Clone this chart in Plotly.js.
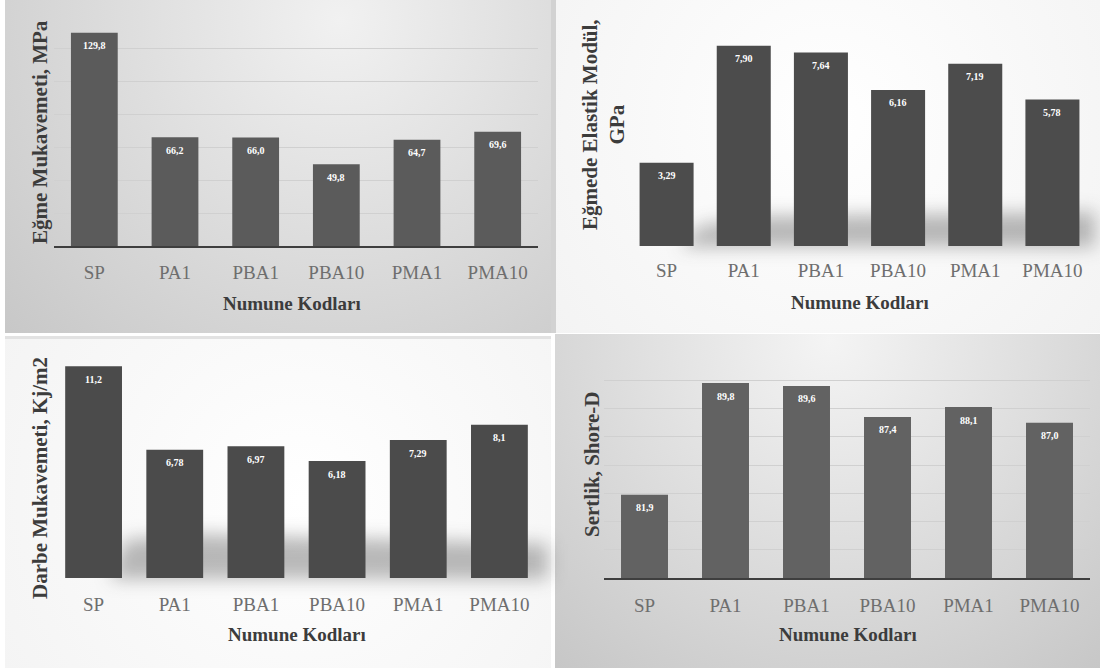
<!DOCTYPE html>
<html>
<head>
<meta charset="utf-8">
<script src="https://cdn.plot.ly/plotly-3.0.1.min.js"></script>
<style>html,body{margin:0;padding:0;background:#fff;}#chart{width:1100px;height:668px;}</style>
</head>
<body>
<div id="chart"></div>
<script>
// ---- data ----
const categories = ["SP", "PA1", "PBA1", "PBA10", "PMA1", "PMA10"];
const flexuralStrength = [129.8, 66.2, 66.0, 49.8, 64.7, 69.6];      // MPa
const flexuralModulus = [3.29, 7.90, 7.64, 6.16, 7.19, 5.78];        // GPa
const impactStrength = [11.2, 6.78, 6.97, 6.18, 7.29, 8.1];          // kJ/m2
const hardness = [81.9, 89.8, 89.6, 87.4, 88.1, 87.0];               // Shore-D
const impactDecimals = [1, 2, 2, 2, 2, 1];

const xTitle = "Numune Kodları";
const yTitle1 = "Eğme Mukavemeti, MPa";
const yTitle2 = "Eğmede Elastik Modül,<br>GPa";
const yTitle3 = "Darbe Mukavemeti, Kj/m2";
const yTitle4 = "Sertlik, Shore-D";

// ---- background (panel shading & soft shadows) ----
function makeBackground() {
  const c = document.createElement('canvas');
  c.width = 1100; c.height = 668;
  const g = c.getContext('2d');
  g.fillStyle = '#ffffff'; g.fillRect(0, 0, 1100, 668);
  function radial(x0, y0, w, h, cx, cy, r, inner, outer) {
    const gr = g.createRadialGradient(cx, cy, 0, cx, cy, r);
    gr.addColorStop(0, inner); gr.addColorStop(1, outer);
    g.fillStyle = gr; g.fillRect(x0, y0, w, h);
  }
  radial(5, 0, 546, 333, 340, 20, 520, '#f1f1f1', '#c2c2c2');
  radial(551, 0, 549, 333, 830, 120, 560, '#ffffff', '#ececec');
  g.fillStyle = '#d2d2d2'; g.fillRect(551, 0, 5, 333);
  radial(5, 336, 546, 332, 300, 500, 560, '#ffffff', '#ededed');
  g.fillStyle = '#e2e2e2'; g.fillRect(5, 336, 546, 3);
  radial(555, 334, 545, 334, 830, 340, 520, '#f4f4f4', '#bdbdbd');
  g.save();
  g.filter = 'blur(9px)';
  g.fillStyle = 'rgba(40,40,40,0.32)';
  g.beginPath();
  g.moveTo(680, 247); g.lineTo(1095, 247); g.lineTo(1095, 212); g.lineTo(760, 216); g.lineTo(700, 226);
  g.closePath(); g.fill();
  g.beginPath();
  g.moveTo(110, 579); g.lineTo(548, 579); g.lineTo(548, 544); g.lineTo(200, 534); g.lineTo(125, 540);
  g.closePath(); g.fill();
  g.restore();
  return c.toDataURL('image/png');
}

const W = 1100, H = 668;
const px = v => v / W;
const py = v => 1 - v / H;

const serif = '"Liberation Serif", "Times New Roman", serif';

function barTrace(n, y, color, width) {
  return {
    type: 'bar', x: categories, y: y,
    xaxis: 'x' + (n === 1 ? '' : n), yaxis: 'y' + (n === 1 ? '' : n),
    marker: {color: color, line: {width: 0}},
    width: width, hoverinfo: 'x+y', showlegend: false
  };
}

const traces = [
  barTrace(1, flexuralStrength, '#5b5b5b', 0.58),
  barTrace(2, flexuralModulus, '#4c4c4c', 0.70),
  barTrace(3, impactStrength, '#4b4b4b', 0.70),
  barTrace(4, hardness, '#626262', 0.58)
];

const tickFont = {family: serif, size: 19, color: '#6e6e6e'};
function xAxis(d, line, anchor, standoff) {
  return {
    domain: d, anchor: anchor, type: 'category', showgrid: false, zeroline: false,
    ticks: '', tickfont: tickFont, ticklabelstandoff: standoff,
    showline: line, linecolor: '#3e3e3e', linewidth: 2, fixedrange: true
  };
}
function yAxis(d, range, grid, dtick, anchor) {
  return {
    domain: d, anchor: anchor, range: range, showgrid: grid, dtick: dtick,
    gridcolor: '#d0d0d0', gridwidth: 1, zeroline: false, showticklabels: false,
    ticks: '', showline: false, fixedrange: true
  };
}

function ann(text, x, y, angle, size) {
  return {text: '<b>' + text + '</b>', xref: 'paper', yref: 'paper', x: px(x), y: py(y),
    xanchor: 'center', yanchor: 'middle', showarrow: false, textangle: angle || 0,
    font: {family: serif, size: size, color: '#3c3c3c'}};
}

// value labels inside bars (positioned through the axes' own scales)
function fmt(v, d) { return v.toFixed(d).replace('.', ','); }
function valueLabels(n, values, decimals) {
  const sx = n === 1 ? 'x' : 'x' + n, sy = n === 1 ? 'y' : 'y' + n;
  return values.map((v, i) => ({
    text: '<b>' + fmt(v, Array.isArray(decimals) ? decimals[i] : decimals) + '</b>',
    xref: sx, yref: sy, x: categories[i], y: v, yshift: -13,
    xanchor: 'center', yanchor: 'middle', showarrow: false,
    font: {family: serif, size: 10, color: '#ffffff'}
  }));
}

const annotations = [
  ann(xTitle, 292, 303, 0, 19), ann(xTitle, 860, 302, 0, 19),
  ann(xTitle, 297, 634, 0, 19), ann(xTitle, 848, 634, 0, 19),
  ann(yTitle1, 40, 132, -90, 21), ann(yTitle2, 603, 125, -90, 21),
  ann(yTitle3, 40, 478, -90, 21), ann(yTitle4, 592, 465, -90, 21)
].concat(
  valueLabels(1, flexuralStrength, 1),
  valueLabels(2, flexuralModulus, 2),
  valueLabels(3, impactStrength, impactDecimals),
  valueLabels(4, hardness, 1)
);

const layout = {
  width: W, height: H,
  margin: {l: 0, r: 0, t: 0, b: 0, pad: 0},
  paper_bgcolor: 'rgba(0,0,0,0)', plot_bgcolor: 'rgba(0,0,0,0)',
  xaxis: xAxis([px(54), px(538)], true, 'y', 8),
  yaxis: yAxis([py(246), py(16)], [0, 140], true, 20, 'x'),
  xaxis2: xAxis([px(628), px(1091)], false, 'y2', 11),
  yaxis2: yAxis([py(246), py(18)], [0, 9], false, 1, 'x2'),
  xaxis3: xAxis([px(53), px(540)], false, 'y3', 13),
  yaxis3: yAxis([py(578), py(351)], [0, 12], false, 1, 'x3'),
  xaxis4: xAxis([px(604), px(1090)], true, 'y4', 9),
  yaxis4: yAxis([py(578), py(352)], [76, 92], true, 2, 'x4'),
  annotations: annotations,
  images: [{source: makeBackground(), xref: 'paper', yref: 'paper', x: 0, y: 1,
    sizex: 1, sizey: 1, sizing: 'stretch', xanchor: 'left', yanchor: 'top', layer: 'below'}]
};

Plotly.newPlot('chart', traces, layout, {displayModeBar: false, staticPlot: true});
</script>
</body>
</html>
